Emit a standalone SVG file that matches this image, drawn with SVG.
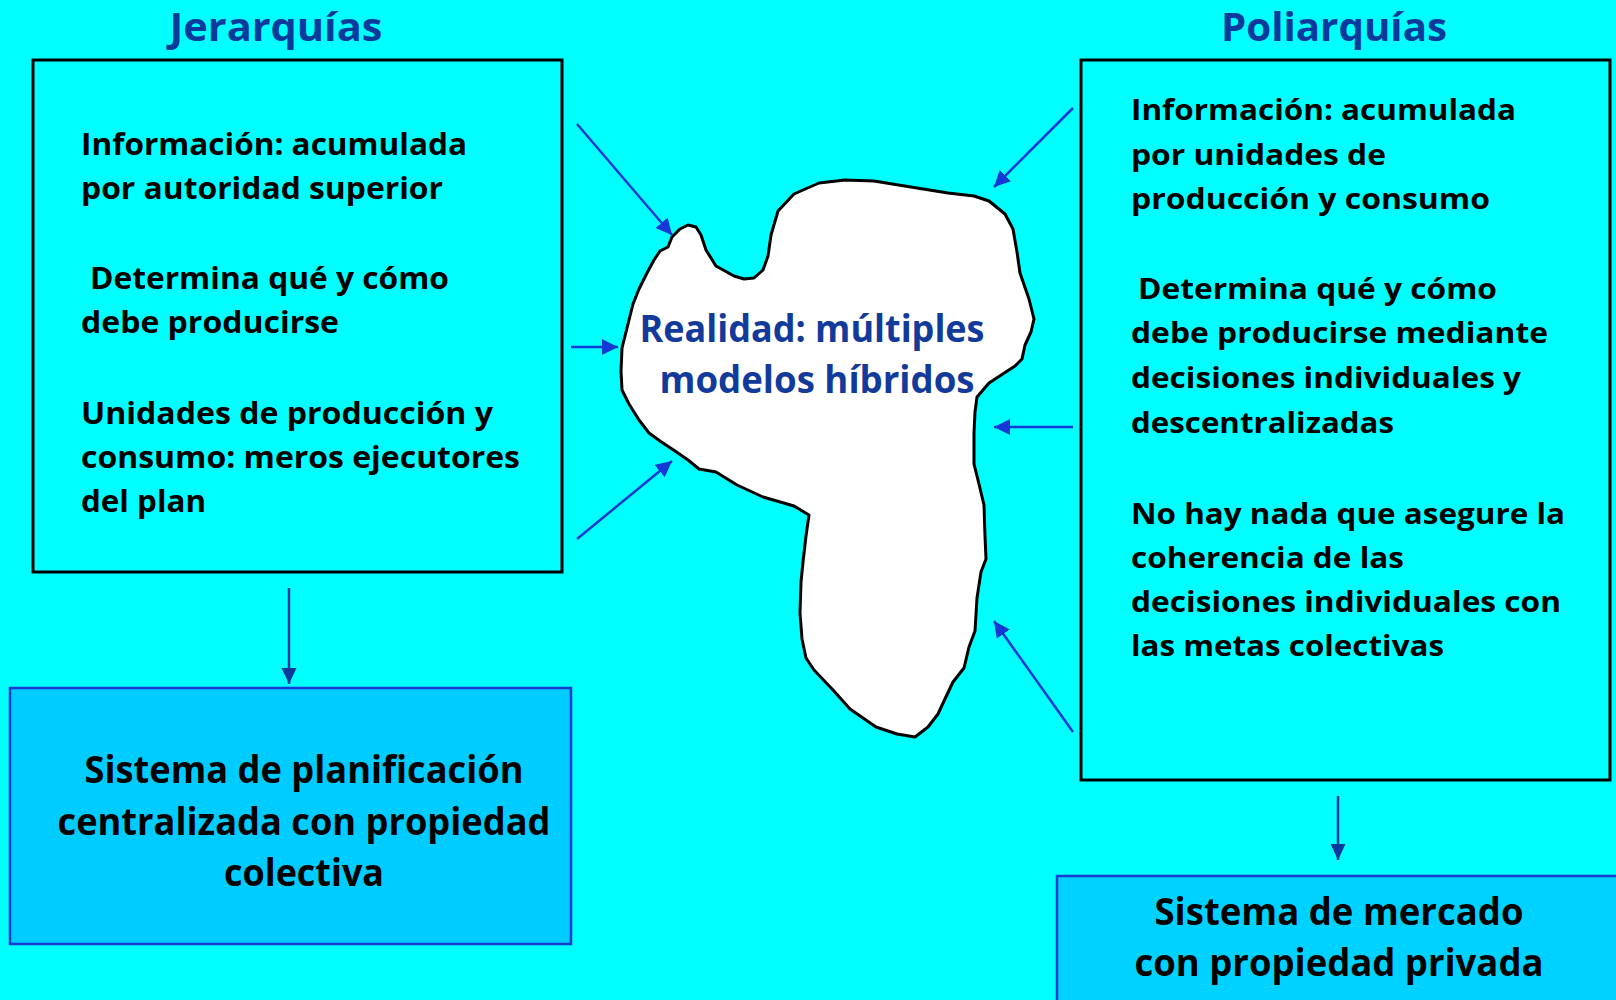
<svg xmlns="http://www.w3.org/2000/svg" width="1616" height="1000" viewBox="0 0 1616 1000">
<style>
.title{font-family:"Open Sans","Liberation Sans",sans-serif;font-weight:bold;font-size:40px;fill:#0A3A9C}
.lt{font-family:"Open Sans","Liberation Sans",sans-serif;font-weight:bold;font-size:31px;fill:#000}
.rt{font-family:"Open Sans","Liberation Sans",sans-serif;font-weight:bold;font-size:29px;fill:#000}
.bt{font-family:"Open Sans","Liberation Sans",sans-serif;font-weight:bold;font-size:38px;fill:#000}
.blobt{font-family:"Open Sans","Liberation Sans",sans-serif;font-weight:bold;font-size:37px;fill:#123A9A}
.box{fill:none;stroke:#000;stroke-width:3}
.res{stroke:#1B3BD1;stroke-width:2.5}
.side{stroke:#1638D4;stroke-width:2.5;fill:none}
.down{stroke:#0D3A9A;stroke-width:2.5;fill:none}
</style>
<defs>
<marker id="ah" markerUnits="userSpaceOnUse" markerWidth="18" markerHeight="18" refX="16" refY="8" orient="auto">
<path d="M0,0 L16,8 L0,16 Z" fill="#1638D4"/>
</marker>
<marker id="ahd" markerUnits="userSpaceOnUse" markerWidth="18" markerHeight="16" refX="16" refY="7.5" orient="auto">
<path d="M0,0 L16,7.5 L0,15 Z" fill="#0D3A9A"/>
</marker>
</defs>
<rect width="1616" height="1000" fill="#00FFFF"/>

<g id="title-jerarquias"><text class="title" x="276" y="41" text-anchor="middle" textLength="213" lengthAdjust="spacingAndGlyphs">Jerarquías</text></g>
<g id="title-poliarquias"><text class="title" x="1334" y="41" text-anchor="middle" textLength="226" lengthAdjust="spacingAndGlyphs">Poliarquías</text></g>

<g id="box-jerarquias">
<rect class="box" x="33" y="60" width="529" height="512"/>
<text class="lt" x="81" y="155" textLength="386" lengthAdjust="spacingAndGlyphs">Información: acumulada</text>
<text class="lt" x="81" y="199" textLength="362" lengthAdjust="spacingAndGlyphs">por autoridad superior</text>
<text class="lt" x="90" y="289" textLength="359" lengthAdjust="spacingAndGlyphs">Determina qué y cómo</text>
<text class="lt" x="81" y="333" textLength="258" lengthAdjust="spacingAndGlyphs">debe producirse</text>
<text class="lt" x="81" y="424" textLength="412" lengthAdjust="spacingAndGlyphs">Unidades de producción y</text>
<text class="lt" x="81" y="468" textLength="439" lengthAdjust="spacingAndGlyphs">consumo: meros ejecutores</text>
<text class="lt" x="81" y="512" textLength="125" lengthAdjust="spacingAndGlyphs">del plan</text>
</g>

<g id="box-poliarquias">
<rect class="box" x="1081" y="60" width="529" height="720"/>
<text class="rt" x="1131" y="120" textLength="385" lengthAdjust="spacingAndGlyphs">Información: acumulada</text>
<text class="rt" x="1131" y="165" textLength="255" lengthAdjust="spacingAndGlyphs">por unidades de</text>
<text class="rt" x="1131" y="209" textLength="359" lengthAdjust="spacingAndGlyphs">producción y consumo</text>
<text class="rt" x="1138" y="299" textLength="359" lengthAdjust="spacingAndGlyphs">Determina qué y cómo</text>
<text class="rt" x="1131" y="343" textLength="417" lengthAdjust="spacingAndGlyphs">debe producirse mediante</text>
<text class="rt" x="1131" y="388" textLength="390" lengthAdjust="spacingAndGlyphs">decisiones individuales y</text>
<text class="rt" x="1131" y="433" textLength="263" lengthAdjust="spacingAndGlyphs">descentralizadas</text>
<text class="rt" x="1131" y="524" textLength="434" lengthAdjust="spacingAndGlyphs">No hay nada que asegure la</text>
<text class="rt" x="1131" y="568" textLength="273" lengthAdjust="spacingAndGlyphs">coherencia de las</text>
<text class="rt" x="1131" y="612" textLength="430" lengthAdjust="spacingAndGlyphs">decisiones individuales con</text>
<text class="rt" x="1131" y="656" textLength="313" lengthAdjust="spacingAndGlyphs">las metas colectivas</text>
</g>

<g id="realidad">
<polygon fill="#fff" stroke="#000" stroke-width="3" stroke-linejoin="round" points="672,237 680,229 688,225 696,227 701,235 706,250 716,266 734,276 744,279 754,278 763,270 768,256 771,235 778,211 794,194 819,183 845,180 874,181 917,188 948,193 974,196 989,201 1005,214 1013,229 1017,252 1020,273 1029,299 1034,319 1031,332 1025,345 1022,359 1015,366 989,383 977,397 975,412 974,433 974,464 979,484 984,505 985,536 986,559 981,572 977,598 975,631 969,647 964,668 953,682 944,701 938,714 928,727 915,737 897,734 876,727 850,709 833,690 814,670 806,658 802,639 800,613 801,582 803,562 806,536 809,515 794,506 763,497 737,485 716,472 699,469 688,460 675,451 660,441 649,433 639,420 629,404 622,390 621,371 622,348 627,328 633,304 639,289 647,273 654,260 660,251 668,247"/>
<text class="blobt" x="812" y="342" text-anchor="middle" textLength="345" lengthAdjust="spacingAndGlyphs">Realidad: múltiples</text>
<text class="blobt" x="817" y="393" text-anchor="middle" textLength="315" lengthAdjust="spacingAndGlyphs">modelos híbridos</text>
</g>

<g id="sistema-planificacion">
<rect class="res" x="10" y="688" width="561" height="256" fill="#00CCFF"/>
<text class="bt" x="304" y="783" text-anchor="middle" textLength="439" lengthAdjust="spacingAndGlyphs">Sistema de planificación</text>
<text class="bt" x="304" y="835" text-anchor="middle" textLength="493" lengthAdjust="spacingAndGlyphs">centralizada con propiedad</text>
<text class="bt" x="304" y="886" text-anchor="middle" textLength="160" lengthAdjust="spacingAndGlyphs">colectiva</text>
</g>

<g id="sistema-mercado">
<rect class="res" x="1057" y="876" width="570" height="140" fill="#00D2FF"/>
<text class="bt" x="1339" y="925" text-anchor="middle" textLength="369" lengthAdjust="spacingAndGlyphs">Sistema de mercado</text>
<text class="bt" x="1339" y="976" text-anchor="middle" textLength="409" lengthAdjust="spacingAndGlyphs">con propiedad privada</text>
</g>

<g id="connectors">
<line class="side" x1="577" y1="124" x2="672" y2="235" marker-end="url(#ah)"/>
<line class="side" x1="571" y1="347" x2="618" y2="347" marker-end="url(#ah)"/>
<line class="side" x1="577" y1="539" x2="672" y2="461" marker-end="url(#ah)"/>
<line class="side" x1="1073" y1="108" x2="994" y2="187" marker-end="url(#ah)"/>
<line class="side" x1="1073" y1="427" x2="994" y2="427" marker-end="url(#ah)"/>
<line class="side" x1="1073" y1="732" x2="994" y2="621" marker-end="url(#ah)"/>
<line class="down" x1="289" y1="588" x2="289" y2="684" marker-end="url(#ahd)"/>
<line class="down" x1="1338" y1="796" x2="1338" y2="860" marker-end="url(#ahd)"/>
</g>
</svg>
